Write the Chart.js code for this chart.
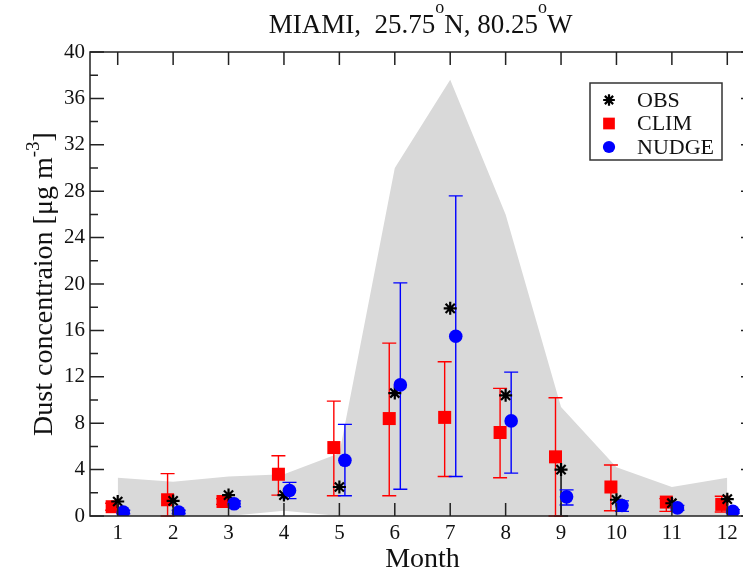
<!DOCTYPE html>
<html>
<head>
<meta charset="utf-8">
<script src="https://cdn.jsdelivr.net/npm/chart.js@4/dist/chart.umd.min.js"></script>
<style>
html, body { margin: 0; padding: 0; overflow: hidden; background: #fff; }
</style>
</head>
<body>
<canvas id="chart" width="780" height="573"></canvas>
<script>
// monthly values
var months = [1, 2, 3, 4, 5, 6, 7, 8, 9, 10, 11, 12];
var obs      = [1.25, 1.3, 1.8, 1.8, 2.5, 10.6, 17.9, 10.4, 4.0, 1.4, 1.1, 1.45];
var obsLow   = [1.25, 1.3, 1.8, 1.8, 2.5, 10.6, 17.9, 10.4, 0.0, 1.4, 1.1, 1.45];
var clim     = [0.8, 1.4, 1.25, 3.6, 5.9, 8.4, 8.5, 7.2, 5.1, 2.5, 1.2, 1.0];
var climLow  = [0.5, 0.0, 1.0, 1.8, 1.75, 1.75, 3.4, 3.3, 0.0, 0.45, 0.4, 0.35];
var climHigh = [1.1, 3.65, 1.5, 5.2, 9.9, 14.9, 13.3, 11.0, 10.2, 4.4, 1.5, 1.7];
var nudge     = [0.35, 0.35, 1.05, 2.2, 4.8, 11.3, 15.5, 8.2, 1.65, 0.9, 0.7, 0.4];
var nudgeLow  = [0.2, 0.2, 0.8, 1.5, 1.75, 2.3, 3.4, 3.7, 0.95, 0.4, 0.5, 0.25];
var nudgeHigh = [0.5, 0.5, 1.3, 2.9, 7.9, 20.1, 27.6, 12.4, 2.25, 1.3, 0.9, 0.55];
var bandLow  = [0, 0, 0, 0.45, 0, 0, 0, 0, 0, 0, 0, 0];
var bandHigh = [3.3, 2.95, 3.4, 3.6, 5.4, 30.0, 37.6, 26.0, 9.4, 4.2, 2.5, 3.3];
var yTicks = [0, 4, 8, 12, 16, 20, 24, 28, 32, 36, 40];
var yMinor = [2, 6, 10, 14, 18, 22, 26, 30, 34, 38];
var climShift = -0.1, nudgeShift = 0.1;

var serif = "'Liberation Serif', 'Times New Roman', serif";

function pts(vals, shift) {
    return months.map(function(m, i) { return { x: m + (shift || 0), y: vals[i] }; });
}

// draw text pieces, some raised as superscripts
function richText(ctx, pieces, x, y, size, supSize, raise) {
    var total = 0;
    pieces.forEach(function(p) {
        ctx.font = (p[1] ? supSize : size) + 'px ' + serif;
        p.w = ctx.measureText(p[0]).width;
        total += p.w;
    });
    var cx = x - total / 2;
    ctx.textAlign = 'left';
    ctx.textBaseline = 'alphabetic';
    pieces.forEach(function(p) {
        ctx.font = (p[1] ? supSize : size) + 'px ' + serif;
        ctx.fillText(p[0], cx, p[1] ? y - raise : y);
        cx += p.w;
    });
}

var bars = [
    { shift: 0, low: obsLow, high: obs, mid: obs, color: '#000' },
    { shift: climShift, low: climLow, high: climHigh, mid: clim, color: '#f00' },
    { shift: nudgeShift, low: nudgeLow, high: nudgeHigh, mid: nudge, color: '#00f' }
];

var decor = {
    id: 'decor',
    beforeDatasetDraw: function(chart, args) {
        if (args.index !== 2) return;
        var ctx = chart.ctx, xs = chart.scales.x, ys = chart.scales.y;
        ctx.save();
        ctx.lineWidth = 1.4;
        bars.forEach(function(b) {
            ctx.strokeStyle = b.color;
            months.forEach(function(m, i) {
                var px = xs.getPixelForValue(m + b.shift);
                var lo = ys.getPixelForValue(b.low[i]);
                var hi = ys.getPixelForValue(b.high[i]);
                ctx.beginPath();
                ctx.moveTo(px, lo); ctx.lineTo(px, hi);
                if (b.low[i] !== b.mid[i]) { ctx.moveTo(px - 7, lo); ctx.lineTo(px + 7, lo); }
                if (b.high[i] !== b.mid[i]) { ctx.moveTo(px - 7, hi); ctx.lineTo(px + 7, hi); }
                ctx.stroke();
            });
        });
        ctx.restore();
    },
    afterDraw: function(chart) {
        var ctx = chart.ctx, a = chart.chartArea, xs = chart.scales.x, ys = chart.scales.y;
        ctx.save();
        // frame and inward ticks
        ctx.strokeStyle = '#222';
        ctx.lineWidth = 1.5;
        ctx.strokeRect(a.left, a.top, a.right - a.left, a.bottom - a.top);
        ctx.beginPath();
        months.forEach(function(m) {
            var px = xs.getPixelForValue(m);
            ctx.moveTo(px, a.bottom); ctx.lineTo(px, a.bottom - 13);
            ctx.moveTo(px, a.top); ctx.lineTo(px, a.top + 13);
        });
        yTicks.forEach(function(v) {
            var py = ys.getPixelForValue(v);
            ctx.moveTo(a.left, py); ctx.lineTo(a.left + 14, py);
            ctx.moveTo(a.right, py); ctx.lineTo(a.right - 14, py);
        });
        yMinor.forEach(function(v) {
            var py = ys.getPixelForValue(v);
            ctx.moveTo(a.left, py); ctx.lineTo(a.left + 8, py);
            ctx.moveTo(a.right, py); ctx.lineTo(a.right - 8, py);
        });
        ctx.stroke();

        ctx.fillStyle = '#111';
        // title
        richText(ctx, [['MIAMI,  25.75', 0], ['o', 1], ['N, 80.25', 0], ['o', 1], ['W', 0]],
            (a.left + a.right) / 2 - 2, 33, 27, 18, 20);
        // x title
        ctx.font = '28px ' + serif;
        ctx.textAlign = 'center';
        ctx.fillText('Month', (a.left + a.right) / 2, 567);
        // y title
        ctx.save();
        ctx.translate(52, (a.top + a.bottom) / 2);
        ctx.rotate(-Math.PI / 2);
        richText(ctx, [['Dust concentraion [\u03bcg m', 0], ['-3', 1], [']', 0]], 0, 0, 28, 19, 13);
        ctx.restore();

        // legend
        var lx = 590, ly = 83, lw = 132, lh = 77;
        ctx.fillStyle = '#fff';
        ctx.fillRect(lx, ly, lw, lh);
        ctx.strokeStyle = '#333';
        ctx.lineWidth = 1.5;
        ctx.strokeRect(lx, ly, lw, lh);
        var items = [
            { label: 'OBS', ds: chart.data.datasets[3] },
            { label: 'CLIM', ds: chart.data.datasets[2] },
            { label: 'NUDGE', ds: chart.data.datasets[4] }
        ];
        items.forEach(function(it, k) {
            var y = ly + 17 + k * 23.5;
            ctx.fillStyle = it.ds.backgroundColor;
            ctx.strokeStyle = it.ds.borderColor;
            ctx.lineWidth = it.ds.borderWidth;
            Chart.helpers.drawPoint(ctx, {
                pointStyle: it.ds.pointStyle,
                radius: it.ds.pointRadius * 0.9,
                rotation: 0,
                borderWidth: it.ds.borderWidth
            }, lx + 19, y);
            ctx.fillStyle = '#111';
            ctx.font = '22px ' + serif;
            ctx.textAlign = 'left';
            ctx.textBaseline = 'middle';
            ctx.fillText(it.label, lx + 47, y + 1);
        });
        ctx.restore();
    }
};

var ctx = document.getElementById('chart').getContext('2d');
new Chart(ctx, {
    type: 'line',
    data: {
        datasets: [
            { label: 'bandLow', data: pts(bandLow), borderWidth: 0, borderColor: 'rgba(0,0,0,0)',
              pointRadius: 0, fill: false, order: 10 },
            { label: 'bandHigh', data: pts(bandHigh), borderWidth: 0, borderColor: 'rgba(0,0,0,0)',
              backgroundColor: '#d9d9d9', pointRadius: 0, fill: '-1', order: 9 },
            { label: 'CLIM', data: pts(clim, climShift), showLine: false, pointStyle: 'rect',
              pointRadius: 9.2, backgroundColor: '#f00', borderColor: '#f00', borderWidth: 0, order: 3 },
            { label: 'OBS', data: pts(obs), showLine: false, pointStyle: 'star',
              pointRadius: 6.5, backgroundColor: '#000', borderColor: '#000', borderWidth: 2.2, order: 2 },
            { label: 'NUDGE', data: pts(nudge, nudgeShift), showLine: false, pointStyle: 'circle',
              pointRadius: 6.8, backgroundColor: '#00f', borderColor: '#00f', borderWidth: 0, order: 1 }
        ]
    },
    options: {
        responsive: false,
        animation: false,
        layout: { padding: { top: 52, right: 25, left: 0, bottom: 0 } },
        plugins: { legend: { display: false }, tooltip: { enabled: false } },
        scales: {
            x: {
                type: 'linear', min: 0.5, max: 12.5,
                grid: { display: false, drawTicks: false },
                border: { display: false },
                afterBuildTicks: function(s) { s.ticks = months.map(function(m) { return { value: m }; }); },
                afterFit: function(s) { s.height = 57; },
                ticks: { font: { family: serif, size: 21 }, color: '#111', padding: 5,
                         maxRotation: 0, autoSkip: false }
            },
            y: {
                type: 'linear', min: 0, max: 40,
                grid: { display: false, drawTicks: false },
                border: { display: false },
                afterBuildTicks: function(s) { s.ticks = yTicks.map(function(v) { return { value: v }; }); },
                afterFit: function(s) { s.width = 90; },
                ticks: { font: { family: serif, size: 21 }, color: '#111', padding: 5 }
            }
        }
    },
    plugins: [decor]
});
</script>
</body>
</html>
